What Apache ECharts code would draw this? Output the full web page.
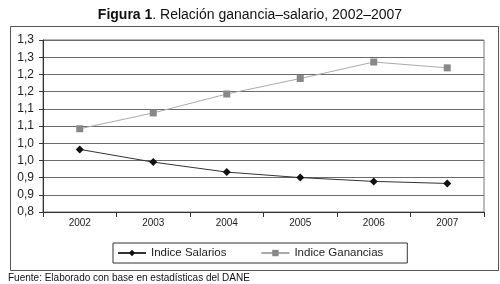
<!DOCTYPE html>
<html>
<head>
<meta charset="utf-8">
<script src="https://cdn.jsdelivr.net/npm/echarts@6/dist/echarts.min.js"></script>
<style>
html,body{margin:0;padding:0;background:#fff;}
#c{width:500px;height:284px;}
</style>
</head>
<body>
<div id="c"></div>
<script>
var categories = ['2002', '2003', '2004', '2005', '2006', '2007'];
var salarios = [0.982, 0.945, 0.916, 0.900, 0.889, 0.883];
var ganancias = [1.042, 1.088, 1.143, 1.188, 1.236, 1.219];
var yTickLabels = ['0,8', '0,9', '0,9', '1,0', '1,0', '1,1', '1,1', '1,2', '1,2', '1,3', '1,3'];
var seriesNames = ['Indice Salarios', 'Indice Ganancias'];

var FONT = '"Liberation Sans", Arial, sans-serif';
var chart = echarts.init(document.getElementById('c'), null, {renderer: 'canvas'});
chart.setOption({
  animation: false,
  backgroundColor: '#fff',
  textStyle: {fontFamily: FONT},
  title: [{
    text: '{b|Figura 1}. Relación ganancia–salario, 2002–2007',
    left: 'center', top: 3,
    textStyle: {fontFamily: FONT, fontSize: 14, fontWeight: 'normal', color: '#111',
      rich: {b: {fontFamily: FONT, fontSize: 14, fontWeight: 'bold', color: '#111'}}}
  }, {
    text: 'Fuente: Elaborado con base en estadísticas del DANE',
    left: 3, top: 268,
    textStyle: {fontFamily: FONT, fontSize: 10, fontWeight: 'normal', color: '#111'}
  }],
  graphic: [{
    type: 'rect', left: 8, top: 24, silent: true,
    shape: {width: 488, height: 244},
    style: {fill: 'none', stroke: '#555', lineWidth: 1}
  }],
  grid: {left: 43, right: 16, top: 40, bottom: 72, show: true, borderColor: '#777', borderWidth: 1},
  legend: {
    left: 113, top: 243,
    data: seriesNames,
    borderColor: '#333', borderWidth: 1, borderRadius: 0,
    padding: [4, 24, 4, 4], itemGap: 34, itemWidth: 28, itemHeight: 8,
    textStyle: {fontFamily: FONT, fontSize: 11.5, color: '#222'}
  },
  xAxis: {
    type: 'category', data: categories, boundaryGap: true,
    axisLine: {lineStyle: {color: '#333', width: 1}},
    axisTick: {show: true, interval: 0, length: 5, lineStyle: {color: '#333'}},
    axisLabel: {fontFamily: FONT, fontSize: 10, color: '#222', margin: 6},
    splitLine: {show: false}
  },
  yAxis: {
    type: 'value', min: 0.8, max: 1.3, interval: 0.05,
    axisLine: {show: true, lineStyle: {color: '#333', width: 1}},
    axisTick: {show: true, length: 4, lineStyle: {color: '#333'}},
    axisLabel: {fontFamily: FONT, fontSize: 12, color: '#222', margin: 9,
      formatter: function (v) { return yTickLabels[Math.round((v - 0.8) / 0.05)]; }},
    splitLine: {show: true, lineStyle: {color: '#6a6a6a', width: 1.2}}
  },
  series: [{
    name: seriesNames[0], type: 'line', data: salarios,
    symbol: 'diamond', symbolSize: 8,
    lineStyle: {color: '#333', width: 1},
    itemStyle: {color: '#111'}
  }, {
    name: seriesNames[1], type: 'line', data: ganancias,
    symbol: 'rect', symbolSize: 7,
    lineStyle: {color: '#aaa', width: 1},
    itemStyle: {color: '#888'}
  }]
});
</script>
</body>
</html>
